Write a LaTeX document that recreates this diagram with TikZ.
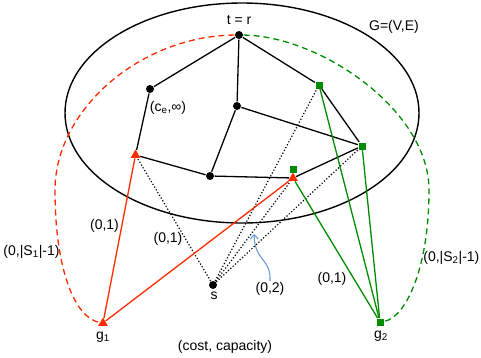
\documentclass[tikz,border=0pt]{standalone}
\usepackage{fontspec}
\setmainfont{Liberation Sans}
\usetikzlibrary{arrows.meta, shapes.geometric}
\definecolor{cred}{HTML}{FF2A00}
\definecolor{cgreen}{HTML}{008C00}
\definecolor{cblue}{HTML}{6A9BD1}
\tikzset{
  every picture/.style={font=\fontsize{14}{16}\selectfont, line width=1.2pt},
  vtx/.style={circle, fill=black, inner sep=0pt, minimum size=8pt},
  tri/.style={regular polygon, regular polygon sides=3, fill=cred, inner sep=0pt, minimum size=11pt},
  sq/.style={rectangle, fill=cgreen, inner sep=0pt, minimum size=7pt},
  link/.style={draw=black, line width=1.3pt},
  flow/.style={draw=black, dotted, line width=1.2pt},
  redlink/.style={draw=cred, line width=1.3pt},
  greenlink/.style={draw=cgreen, line width=1.3pt},
  reddash/.style={draw=cred, dash pattern=on 6pt off 4pt, line width=1.3pt},
  greendash/.style={draw=cgreen, dash pattern=on 6pt off 4pt, line width=1.3pt},
  pointer/.style={-{Straight Barb[length=4pt]}, draw=cblue, line width=1.1pt},
  lbl/.style={inner sep=1pt},
}

\begin{document}
\begin{tikzpicture}[x=1pt, y=-1pt]
  \useasboundingbox (0,0) rectangle (481,357);
  \node[ellipse, draw, line width=1.4pt, minimum width=354pt, minimum height=220pt] (G) at (242,113) {};
  % vertices of G
  \node[vtx] (t) at (239,35) {};
  \node[vtx] (a) at (150,89) {};
  \node[vtx] (b) at (237,106) {};
  \node[vtx] (c) at (210,176) {};
  \node[vtx] (s) at (213,285) {};
  \node[tri] (r1) at (135.5,155) {};
  \node[tri] (r2) at (293,178) {};
  \node[sq] (q2) at (293,169) {};
  \node[sq] (q1) at (319,85) {};
  \node[sq] (q3) at (362,146) {};
  % group nodes
  \node[tri] (g1) at (103,323) {};
  \node[sq] (g2) at (380,322) {};
  \foreach \u/\v in {t/a, t/b, t/q1, a/r1, b/c, b/q3, q1/q3, r1/c, c/r2, r2/q3} { \draw[link] (\u) -- (\v); }
  \foreach \v in {r1, q1, r2, q3} { \draw[flow] (s) -- (\v); }
  \foreach \v in {r1, r2} { \draw[redlink] (g1) -- (\v); }
  \foreach \v in {q1, q3, r2} { \draw[greenlink] (g2) -- (\v); }
  % dashed arcs from the root to the groups
  \coordinate (lw) at (55,190);
  \coordinate (rw) at (429,190);
  \draw[reddash] (t) .. controls (140,36) and (55,110) .. (lw) .. controls (55,270) and (75,318) .. (g1);
  \draw[greendash] (t) .. controls (320,36) and (429,110) .. (rw) .. controls (429,270) and (405,318) .. (g2);
  % labels
  \node[lbl] (lt) at (239,20) {t = r};
  \node[lbl] (lG) at (394,27) {G=(V,E)};
  \node[lbl] (lce) at (168,108) {(c\textsubscript{e},∞)};
  \node[lbl] (l1a) at (104.5,226) {(0,1)};
  \node[lbl] (l1b) at (168,239) {(0,1)};
  \node[lbl] (l1c) at (332,279) {(0,1)};
  \node[lbl] (l02) at (270,289) {(0,2)};
  \node[lbl] (lS1) at (31.5,252) {(0,|S\textsubscript{1}|-1)};
  \node[lbl, anchor=east] (lS2) at (481,258) {(0,|S\textsubscript{2}|-1)};
  \node[lbl] (ls) at (214,296) {s};
  \node[lbl] (lg1) at (103,337) {g\textsubscript{1}};
  \node[lbl] (lg2) at (381,336) {g\textsubscript{2}};
  \node[lbl] (lcc) at (225,347) {(cost, capacity)};
  \coordinate (tip) at (254,234);
  \draw[pointer] (l02.north) .. controls (271,258) and (255,262) .. (tip);
\end{tikzpicture}
\end{document}
